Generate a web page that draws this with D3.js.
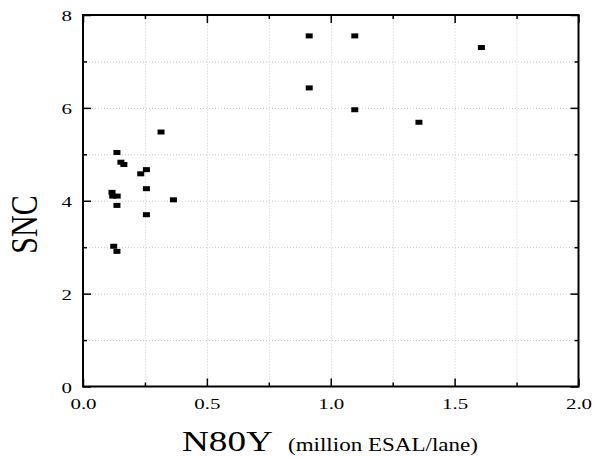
<!DOCTYPE html>
<html>
<head>
<meta charset="utf-8">
<script src="https://cdn.jsdelivr.net/npm/d3@7"></script>
<style>
  html, body { margin: 0; padding: 0; background: #fff; }
  svg { display: block; }
  text { font-family: "Liberation Serif", "Times New Roman", serif; fill: #000; }
</style>
</head>
<body>
<svg id="chart" width="595" height="457"></svg>
<script>
// ---- data ----
const n80y = [0.137, 0.153, 0.165, 0.233, 0.256, 0.256, 0.117, 0.120, 0.138, 0.365, 0.137,
              0.256, 0.124, 0.137, 0.315, 0.913, 1.097, 1.608, 0.913, 1.097, 1.356];
const snc  = [5.04, 4.83, 4.78, 4.58, 4.67, 4.26, 4.18, 4.10, 4.10, 4.02, 3.90,
              3.70, 3.02, 2.91, 5.48, 7.55, 7.55, 7.30, 6.43, 5.96, 5.69];
const xMajorTicks = [0, 0.5, 1.0, 1.5, 2.0];
const xMinorTicks = [0.25, 0.75, 1.25, 1.75];
const yMajorTicks = [0, 2, 4, 6, 8];
const yMinorTicks = [1, 3, 5, 7];
const xGridTicks = [0.25, 0.5, 0.75, 1.0, 1.25, 1.5, 1.75];
const yGridTicks = [1, 2, 3, 4, 5, 6, 7];
const xTitle = "N80Y";
const xUnit = "(million ESAL/lane)";
const yTitle = "SNC";

// ---- layout ----
const L = 83, R = 578.5, T = 15, B = 386.5;
const svg = d3.select("#chart");
const x = d3.scaleLinear().domain([0, 2]).range([L, R]);
const y = d3.scaleLinear().domain([0, 8]).range([B, T]);
const SX = 1.35; // horizontal glyph stretch of the original

// grid
svg.append("g").attr("transform", `translate(0,${B})`)
  .call(d3.axisBottom(x).tickValues(xGridTicks).tickSize(-(B - T)).tickFormat(""))
  .call(g => g.select(".domain").remove())
  .call(g => g.selectAll("line").attr("stroke", "#c8c8c8").attr("stroke-width", 1).attr("stroke-dasharray", "1,2"));
svg.append("g").attr("transform", `translate(${L},0)`)
  .call(d3.axisLeft(y).tickValues(yGridTicks).tickSize(-(R - L)).tickFormat(""))
  .call(g => g.select(".domain").remove())
  .call(g => g.selectAll("line").attr("stroke", "#c8c8c8").attr("stroke-width", 1).attr("stroke-dasharray", "1,2"));

function tickStyle(g) {
  g.select(".domain").remove();
  g.selectAll("line").attr("stroke", "#000").attr("stroke-width", 1.5);
}

// bottom axis with labels
svg.append("g").attr("transform", `translate(0,${B})`)
  .call(d3.axisBottom(x).tickValues(xMajorTicks).tickSize(-8).tickPadding(11.5).tickFormat(d3.format(".1f")))
  .call(tickStyle)
  .call(g => g.selectAll("text").attr("font-size", 15.5).attr("fill", "#000")
      .attr("font-family", "Liberation Serif, serif")
      .attr("transform", `scale(${SX},1)`));
svg.append("g").attr("transform", `translate(0,${B})`)
  .call(d3.axisBottom(x).tickValues(xMinorTicks).tickSize(-4).tickFormat(""))
  .call(tickStyle);
// top axis
svg.append("g").attr("transform", `translate(0,${T})`)
  .call(d3.axisTop(x).tickValues(xMajorTicks).tickSize(-8).tickFormat(""))
  .call(tickStyle);
svg.append("g").attr("transform", `translate(0,${T})`)
  .call(d3.axisTop(x).tickValues(xMinorTicks).tickSize(-4).tickFormat(""))
  .call(tickStyle);
// left axis with labels
svg.append("g").attr("transform", `translate(${L},0)`)
  .call(d3.axisLeft(y).tickValues(yMajorTicks).tickSize(-8).tickPadding(11).tickFormat(d3.format("d")))
  .call(tickStyle)
  .call(g => g.selectAll("text").attr("font-size", 15.5).attr("fill", "#000")
      .attr("font-family", "Liberation Serif, serif")
      .attr("x", 0).attr("dy", "0.36em")
      .attr("transform", `translate(-11,0) scale(${SX},1)`));
svg.append("g").attr("transform", `translate(${L},0)`)
  .call(d3.axisLeft(y).tickValues(yMinorTicks).tickSize(-4).tickFormat(""))
  .call(tickStyle);
// right axis
svg.append("g").attr("transform", `translate(${R},0)`)
  .call(d3.axisRight(y).tickValues(yMajorTicks).tickSize(-8).tickFormat(""))
  .call(tickStyle);
svg.append("g").attr("transform", `translate(${R},0)`)
  .call(d3.axisRight(y).tickValues(yMinorTicks).tickSize(-4).tickFormat(""))
  .call(tickStyle);

// frame
svg.append("rect").attr("x", L).attr("y", T).attr("width", R - L).attr("height", B - T)
  .attr("fill", "none").attr("stroke", "#000").attr("stroke-width", 2);

// points
const pts = n80y.map((v, i) => ({ x: v, y: snc[i] }));
svg.append("g").selectAll("rect").data(pts).join("rect")
  .attr("x", d => x(d.x) - 3.5).attr("y", d => y(d.y) - 2.5)
  .attr("width", 7).attr("height", 5).attr("fill", "#000");

// titles
svg.append("text").text(xTitle)
  .attr("font-size", 30)
  .attr("transform", `translate(182,450.5) scale(1.24,1)`);
svg.append("text").text(xUnit)
  .attr("font-size", 18)
  .attr("transform", `translate(288,450.5) scale(1.28,1)`);
svg.append("text").text(yTitle)
  .attr("font-size", 30).attr("text-anchor", "middle")
  .attr("transform", `translate(36.5,224.5) scale(1.24,1) rotate(-90)`);
</script>
</body>
</html>
